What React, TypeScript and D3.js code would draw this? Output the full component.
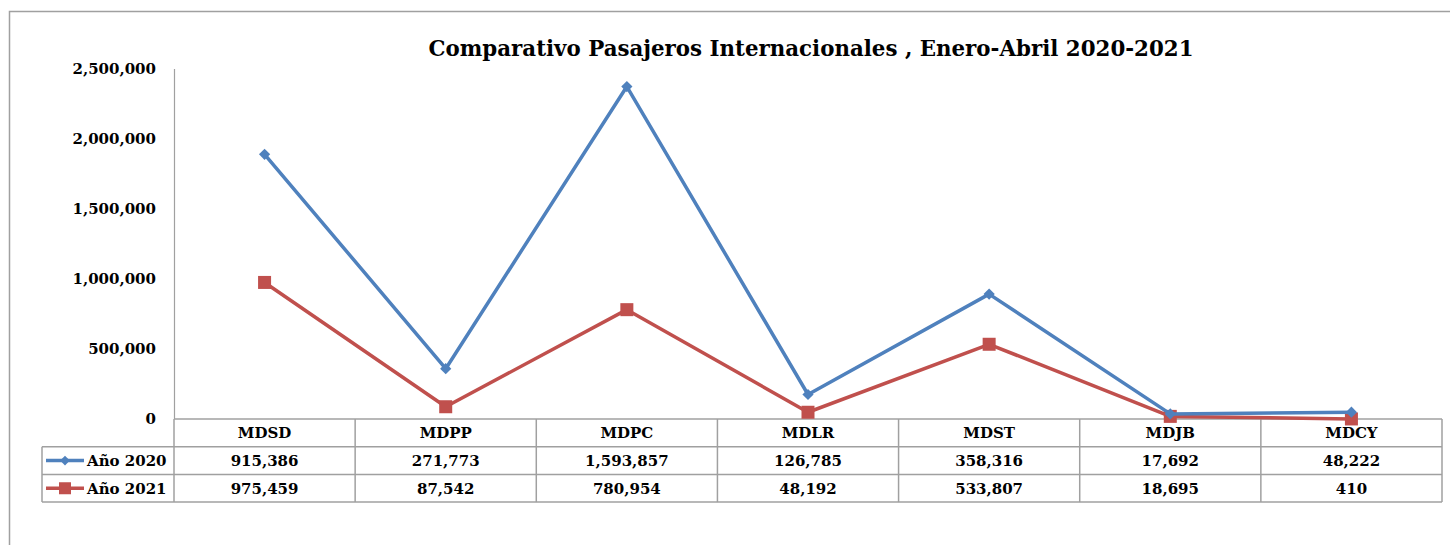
import { useEffect, useRef } from 'react';
import * as d3 from 'd3';

const categories = ['MDSD', 'MDPP', 'MDPC', 'MDLR', 'MDST', 'MDJB', 'MDCY'];
const seriesNames = ['Año 2020', 'Año 2021'];
const values2020 = [915386, 271773, 1593857, 126785, 358316, 17692, 48222];
const values2021 = [975459, 87542, 780954, 48192, 533807, 18695, 410];
const yTicks = [0, 500000, 1000000, 1500000, 2000000, 2500000];

const W = 1450;
const H = 545;
const FONT = '"DejaVu Serif", "Liberation Serif", serif';
const BLUE = '#4F81BD';
const RED = '#C0504D';
const GRID = '#A0A0A0';

const App = () => {
  const svgRef = useRef<SVGSVGElement | null>(null);

  useEffect(() => {
    const svg = d3.select(svgRef.current);
    svg.selectAll('*').remove();

    const left = 174, right = 1442, top = 69, bottom = 419;
    const rowH = 27.7;

    // outer chart frame (runs off the right and bottom edges)
    svg.append('path')
      .attr('d', `M9.5,${H + 2} V11.5 H${W + 2}`)
      .attr('fill', 'none')
      .attr('stroke', GRID)
      .attr('stroke-width', 1.5);

    svg.append('text')
      .attr('x', 811)
      .attr('y', 56)
      .attr('text-anchor', 'middle')
      .attr('font-family', FONT)
      .attr('font-weight', 'bold')
      .attr('font-size', 22)
      .attr('textLength', 765)
      .attr('lengthAdjust', 'spacingAndGlyphs')
      .text('Comparativo Pasajeros Internacionales , Enero-Abril 2020-2021');

    const x = d3.scaleBand().domain(categories).range([left, right]);
    const y = d3.scaleLinear().domain([0, 2500000]).range([bottom, top]);

    // y axis
    svg.append('line')
      .attr('x1', left + 0.5).attr('x2', left + 0.5)
      .attr('y1', top).attr('y2', bottom)
      .attr('stroke', GRID).attr('stroke-width', 1.2);

    const fmt = d3.format(',');
    svg.append('g')
      .selectAll('text')
      .data(yTicks)
      .join('text')
      .attr('x', 156)
      .attr('y', d => y(d))
      .attr('dy', '0.35em')
      .attr('text-anchor', 'end')
      .attr('font-family', FONT)
      .attr('font-weight', 'bold')
      .attr('font-size', 15)
      .text(d => fmt(d));

    // data table
    const table = svg.append('g');
    const tableLeft = 42;
    const rows = [bottom, bottom + rowH, bottom + rowH * 2, bottom + rowH * 3];
    table.append('line')
      .attr('x1', left).attr('x2', right)
      .attr('y1', rows[0]).attr('y2', rows[0])
      .attr('stroke', GRID).attr('stroke-width', 1.5);
    rows.slice(1).forEach(ry => {
      table.append('line')
        .attr('x1', tableLeft).attr('x2', right)
        .attr('y1', ry).attr('y2', ry)
        .attr('stroke', GRID).attr('stroke-width', 1.5);
    });
    const colEdges = [left, ...categories.map(c => (x(c) as number) + x.bandwidth())];
    colEdges.forEach(cx => {
      table.append('line')
        .attr('x1', cx).attr('x2', cx)
        .attr('y1', rows[0]).attr('y2', rows[3])
        .attr('stroke', GRID).attr('stroke-width', 1.5);
    });
    table.append('line')
      .attr('x1', tableLeft).attr('x2', tableLeft)
      .attr('y1', rows[1]).attr('y2', rows[3])
      .attr('stroke', GRID).attr('stroke-width', 1.5);

    const cellText = (tx: number, ty: number, s: string, anchor = 'middle') =>
      table.append('text')
        .attr('x', tx).attr('y', ty)
        .attr('dy', '0.35em')
        .attr('text-anchor', anchor)
        .attr('font-family', FONT)
        .attr('font-weight', 'bold')
        .attr('font-size', 15)
        .text(s);

    categories.forEach((c, i) => {
      const cx = (x(c) as number) + x.bandwidth() / 2;
      cellText(cx, rows[0] + rowH / 2, c);
      cellText(cx, rows[1] + rowH / 2, fmt(values2020[i]));
      cellText(cx, rows[2] + rowH / 2, fmt(values2021[i]));
    });

    // legend keys inside the table
    const legendColors = [BLUE, RED];
    seriesNames.forEach((name, i) => {
      const cy = rows[i + 1] + rowH / 2;
      table.append('line')
        .attr('x1', 46).attr('x2', 84)
        .attr('y1', cy).attr('y2', cy)
        .attr('stroke', legendColors[i]).attr('stroke-width', 3.5);
      if (i === 0) {
        table.append('path')
          .attr('d', d3.symbol(d3.symbolDiamond2, 60)())
          .attr('transform', `translate(65,${cy})`)
          .attr('fill', BLUE);
      } else {
        table.append('rect')
          .attr('x', 59).attr('y', cy - 6)
          .attr('width', 12).attr('height', 12)
          .attr('fill', RED);
      }
      cellText(87, cy, name, 'start');
    });

    // stacked lines: the 2020 line sits on top of the 2021 values
    const tableData = categories.map((c, i) => ({
      cat: c,
      'Año 2020': values2020[i],
      'Año 2021': values2021[i],
    }));
    const stacked = d3.stack<any>()
      .keys(['Año 2021', 'Año 2020'])(tableData);

    const cxOf = (c: string) => (x(c) as number) + x.bandwidth() / 2;
    const line = d3.line<any>()
      .x(d => cxOf(d.data.cat))
      .y(d => y(d[1]));

    const s2021 = stacked[0];
    const s2020 = stacked[1];

    svg.append('path')
      .datum(s2021)
      .attr('d', line)
      .attr('fill', 'none')
      .attr('stroke', RED)
      .attr('stroke-width', 3.5)
      .attr('stroke-linejoin', 'round');

    svg.append('g')
      .selectAll('rect')
      .data(s2021)
      .join('rect')
      .attr('x', d => cxOf(d.data.cat) - 6.5)
      .attr('y', d => y(d[1]) - 6.5)
      .attr('width', 13)
      .attr('height', 13)
      .attr('fill', RED);

    svg.append('path')
      .datum(s2020)
      .attr('d', line)
      .attr('fill', 'none')
      .attr('stroke', BLUE)
      .attr('stroke-width', 3.5)
      .attr('stroke-linejoin', 'round');

    svg.append('g')
      .selectAll('path')
      .data(s2020)
      .join('path')
      .attr('d', d3.symbol(d3.symbolDiamond2, 80)())
      .attr('transform', d => `translate(${cxOf(d.data.cat)},${y(d[1])})`)
      .attr('fill', BLUE);
  }, []);

  return (
    <svg
      ref={svgRef}
      width={W}
      height={H}
      style={{ position: 'absolute', left: 0, top: 0, background: '#fff' }}
    />
  );
};

export default App;
